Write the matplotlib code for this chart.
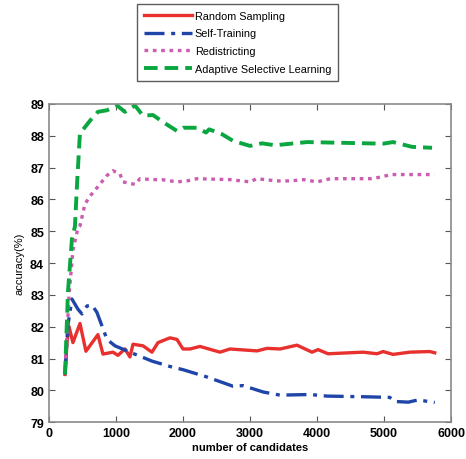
import matplotlib
matplotlib.use('Agg')
import matplotlib.pyplot as plt

plt.rcParams['font.family'] = ['Liberation Sans', 'DejaVu Sans']

# Random Sampling
rs_x = [240, 270, 300, 358, 463, 552, 731, 806, 955, 1030, 1134, 1209, 1254, 1403,
        1537, 1627, 1806, 1910, 2000, 2104, 2254, 2552, 2701, 3104, 3254, 3448, 3701,
        3925, 4015, 4164, 4687, 4896, 4985, 5134, 5383, 5682, 5756]
rs_y = [80.5, 81.5, 82.0, 81.5, 82.1, 81.23, 81.75, 81.14, 81.2, 81.1, 81.3, 81.05, 81.45, 81.4,
        81.2, 81.5, 81.65, 81.6, 81.3, 81.3, 81.38, 81.2, 81.3, 81.24, 81.32, 81.3, 81.42,
        81.2, 81.28, 81.15, 81.2, 81.15, 81.22, 81.13, 81.2, 81.22, 81.18]

# Self-Training
st_x = [240, 280, 343, 433, 493, 567, 642, 716, 866, 985, 1209, 1537, 1806, 2000,
        2358, 2746, 2896, 3194, 3448, 3896, 4149, 4687, 5085, 5164, 5363, 5507, 5756]
st_y = [80.5, 82.0, 82.87, 82.55, 82.4, 82.65, 82.68, 82.45, 81.6, 81.4, 81.2, 80.92, 80.75, 80.65,
        80.42, 80.13, 80.15, 79.95, 79.85, 79.87, 79.82, 79.8, 79.78, 79.65, 79.63, 79.7, 79.62]

# Redistricting
rd_x = [250, 300, 358, 433, 463, 537, 612, 731, 866, 955, 1060, 1104, 1284, 1358,
        1552, 1686, 1910, 2060, 2209, 2700, 3000, 3100, 3400, 3600, 3800, 4000, 4200,
        4800, 4950, 5100, 5750]
rd_y = [81.0, 83.0, 84.4, 85.1, 85.17, 85.85, 86.1, 86.4, 86.75, 86.9, 86.8, 86.55, 86.47, 86.65,
        86.62, 86.62, 86.55, 86.58, 86.65, 86.62, 86.55, 86.65, 86.58, 86.58, 86.62, 86.55, 86.65,
        86.65, 86.7, 86.78, 86.78]

# Adaptive Selective Learning
asl_x = [240, 284, 343, 388, 420, 463, 493, 612, 731, 866, 1015, 1134, 1284, 1403,
         1552, 1701, 1910, 2000, 2209, 2343, 2390, 2580, 2746, 3000, 3179, 3373, 3851,
         4985, 5134, 5418, 5716]
asl_y = [80.5, 83.1, 84.75, 85.15, 86.5, 88.1, 88.15, 88.47, 88.75, 88.8, 88.95, 88.75, 88.95, 88.63,
         88.65, 88.43, 88.15, 88.25, 88.25, 88.1, 88.2, 88.05, 87.84, 87.68, 87.76, 87.7, 87.8,
         87.75, 87.8, 87.65, 87.62]

fig = plt.figure(figsize=(4.66, 4.60), dpi=100)
ax = fig.add_axes([0.105, 0.080, 0.863, 0.692])

l1, = ax.plot(rs_x, rs_y, color='#e8302e', lw=2.4, label='Random Sampling')
l2, = ax.plot(st_x, st_y, color='#1f45a8', lw=2.4, dashes=(6, 2, 1.2, 2), label='Self-Training')
l3, = ax.plot(rd_x, rd_y, color='#cc5cb0', lw=2.4, dashes=(1.1, 1.4), label='Redistricting')
l4, = ax.plot(asl_x, asl_y, color='#0aa640', lw=2.8, dashes=(3.5, 1.8), label='Adaptive Selective Learning')

ax.set_xlim(0, 6000)
ax.set_ylim(79, 89)
ax.set_xticks(range(0, 6001, 1000))
ax.set_yticks(range(79, 90))
ax.tick_params(direction='in', top=True, right=True, length=4, width=0.8, color='#555555',
               labelsize=9)
for lab in ax.get_xticklabels() + ax.get_yticklabels():
    lab.set_fontweight('bold')
for s in ax.spines.values():
    s.set_color('#8a8a8a')
    s.set_linewidth(1.2)

ax.set_xlabel('number of candidates', fontsize=8, fontweight='bold', labelpad=2)
ax.set_ylabel('accuracy(%)', fontsize=8, labelpad=4)

fig.legend(handles=[l1, l2, l3, l4], loc='upper left', bbox_to_anchor=(0.294, 0.989),
           fontsize=7.85, frameon=True, fancybox=False, edgecolor='#333333',
           handlelength=4.4, handletextpad=0.3, borderpad=0.6, labelspacing=0.72,
           borderaxespad=0)

fig.savefig('out.png', dpi=100)
